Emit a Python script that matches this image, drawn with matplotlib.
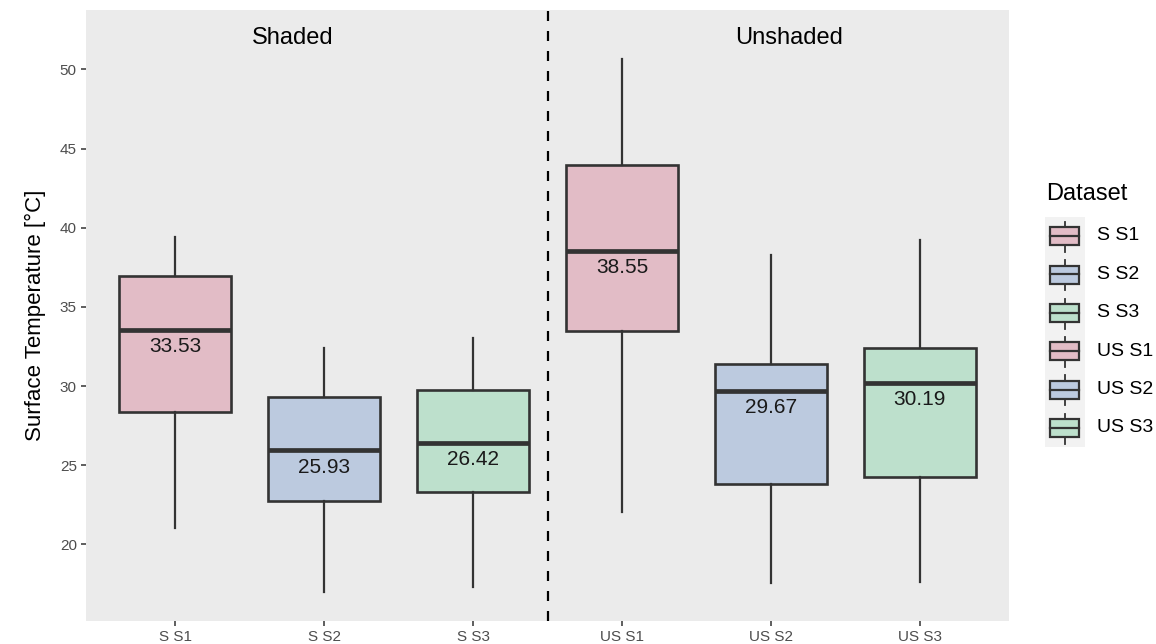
import matplotlib
matplotlib.use("Agg")
import matplotlib.pyplot as plt
from matplotlib.patches import Rectangle

plt.rcParams['font.family'] = ['Liberation Sans', 'DejaVu Sans']

# box statistics
labels = ["S S1", "S S2", "S S3", "US S1", "US S2", "US S3"]
whis_lo = [21.01, 16.99, 17.32, 22.06, 17.54, 17.64]
q1 = [28.34, 22.74, 23.32, 33.49, 23.81, 24.23]
med = [33.53, 25.93, 26.42, 38.55, 29.67, 30.19]
q3 = [36.97, 29.29, 29.75, 43.96, 31.37, 32.38]
whis_hi = [39.39, 32.38, 33.01, 50.64, 38.27, 39.22]
fills = ["#e2bcc6", "#bccadf", "#bde0cc", "#e2bcc6", "#bccadf", "#bde0cc"]
yticks = [20, 25, 30, 35, 40, 45, 50]

W, H = 1156, 644
fig = plt.figure(figsize=(W / 100, H / 100), dpi=100)
# panel in pixel terms: x 86..1009, y 10..620.5
ax = fig.add_axes([86 / W, (H - 620.5) / H, (1009 - 86) / W, 610.5 / H])
ax.set_facecolor("#ebebeb")
for s in ax.spines.values():
    s.set_visible(False)

stats = []
for i in range(len(labels)):
    stats.append(dict(label=labels[i], whislo=whis_lo[i], q1=q1[i], med=med[i],
                      q3=q3[i], whishi=whis_hi[i], fliers=[]))

pos = list(range(1, len(labels) + 1))
bp = ax.bxp(stats, positions=pos, widths=0.75, patch_artist=True, showcaps=False,
            boxprops=dict(edgecolor="#333333", linewidth=1.9),
            whiskerprops=dict(color="#333333", linewidth=1.6),
            medianprops=dict(color="#333333", linewidth=3.4, solid_capstyle="butt"))
for patch, c in zip(bp['boxes'], fills):
    patch.set_facecolor(c)

# median values printed under the median line
for x, m in zip(pos, med):
    ax.annotate(f"{m:.2f}", (x, m), xytext=(0, -12), textcoords="offset points",
                ha="center", va="center", fontsize=15, color="#1a1a1a")

ax.axvline(3.5, color="black", linewidth=1.6, linestyle=(0, (4.5, 4.5)))
ax.text(1.79, 52, "Shaded", ha="center", va="center", fontsize=17, color="black")
ax.text(5.12, 52, "Unshaded", ha="center", va="center", fontsize=17, color="black")

ax.set_xlim(0.4, 6.6)
ax.set_ylim(15.19, 53.75)
ax.set_xticks(pos)
ax.set_xticklabels(labels)
ax.set_yticks(yticks)
ax.tick_params(axis="both", colors="#333333", length=3.6, width=1.1,
               labelsize=11, labelcolor="#4d4d4d", pad=3)
ax.set_ylabel("Surface Temperature [°C]", fontsize=16, color="black", labelpad=10)

# legend drawn by hand, ggplot style
lax = fig.add_axes([1045 / W, (H - 447.3) / H, 40 / W, 230.6 / H])
lax.set_xlim(0, 1)
lax.set_ylim(len(labels), 0)
lax.set_facecolor("#f2f2f2")
lax.axis("off")
lax.add_patch(Rectangle((0, 0), 1, len(labels), facecolor="#f2f2f2", edgecolor="none"))
for i, (lab, c) in enumerate(zip(labels, fills)):
    lax.plot([0.5, 0.5], [i + 0.13, i + 0.91], color="#333333", lw=1.3)
    lax.add_patch(Rectangle((0.13, i + 0.27), 0.73, 0.47, facecolor=c,
                            edgecolor="#333333", lw=1.6, zorder=3))
    lax.plot([0.13, 0.86], [i + 0.5, i + 0.5], color="#333333", lw=1.6, zorder=4)
    fig.text(1097 / W, (H - (216.7 + 38.4 * (i + 0.5))) / H, lab, fontsize=14,
             va="center", ha="left", color="black")
fig.text(1046 / W, (H - 194) / H, "Dataset", fontsize=17, va="center", ha="left")

fig.savefig("out.png", dpi=100)
